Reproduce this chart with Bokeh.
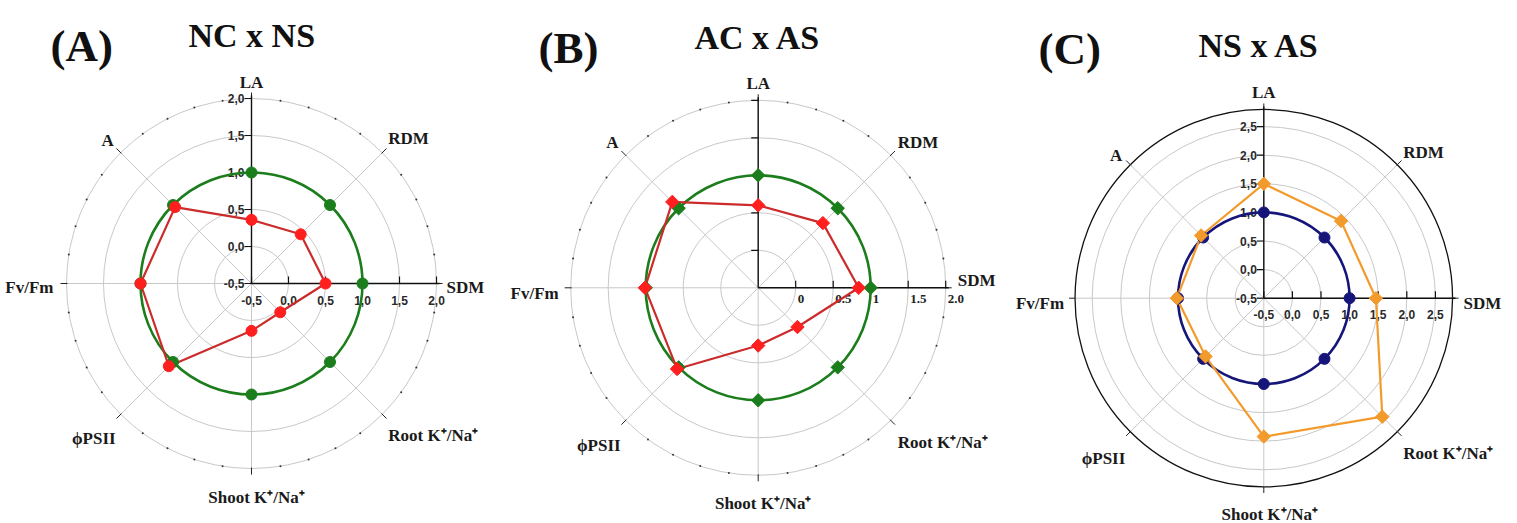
import numpy as np
from bokeh.plotting import figure
from bokeh.layouts import row
from bokeh.models import Range1d, Label
from bokeh.core.properties import value
from bokeh.embed import file_html
from bokeh.resources import INLINE

# ---------------- data ----------------
categories = ["LA", "RDM", "SDM", "Root K\u207a/Na\u207a", "Shoot K\u207a/Na\u207a",
              "\u03d5PSII", "Fv/Fm", "A"]

# Panel A: NC x NS
nc_A = [1.0, 1.0, 1.0, 1.0, 1.0, 1.0, 1.0, 1.0]
ns_A = [0.36, 0.44, 0.50, 0.05, 0.14, 1.08, 1.00, 0.96]
# Panel B: AC x AS
ac_B = [1.0, 1.0, 1.0, 1.0, 1.0, 1.0, 1.0, 1.0]
as_B = [0.60, 0.72, 0.84, 0.24, 0.27, 1.03, 1.01, 1.12]
# Panel C: NS x AS
ns_C = [1.0, 1.0, 1.0, 1.0, 1.0, 1.0, 1.0, 1.0]
as_C = [1.50, 1.41, 1.46, 2.43, 1.92, 0.94, 1.02, 1.05]

grid_A = [0.0, 0.5, 1.0, 1.5, 2.0]
ticks_A = [-0.5, 0.0, 0.5, 1.0, 1.5, 2.0]
tick_labels_A = ["-0,5", "0,0", "0,5", "1,0", "1,5", "2,0"]

grid_B = [0.0, 0.5, 1.0, 1.5, 2.0]
ticks_B = [0.0, 0.5, 1.0, 1.5, 2.0]
tick_labels_B = ["0", "0.5", "1", "1.5", "2.0"]

grid_C = [0.0, 0.5, 1.0, 1.5, 2.0, 2.5]
ticks_C = [-0.5, 0.0, 0.5, 1.0, 1.5, 2.0, 2.5]
tick_labels_C = ["-0,5", "0,0", "0,5", "1,0", "1,5", "2,0", "2,5"]

H = 523
GRAY = "#c8c8c8"
SERIF = "'Liberation Serif', 'Times New Roman', serif"
SANS = "'Liberation Sans', Arial, sans-serif"


def radar(width, cx, cy, scale, rmin, rmax, grid, ticks, tick_labels, ref, cmp_,
          ref_color, cmp_line, cmp_fill, ref_marker, cmp_marker, label_offsets,
          outer_black, dots, title_letter, title_text, letter_pos, text_pos,
          b_style=False):
    p = figure(width=width, height=H, output_backend="svg", toolbar_location=None,
               x_range=Range1d(-cx / scale, (width - cx) / scale),
               y_range=Range1d(-(H - cy) / scale, cy / scale),
               x_axis_location=None, y_axis_location=None, min_border=0)
    p.grid.visible = False
    p.outline_line_color = None
    px = 1.0 / scale
    theta = np.pi / 2 - np.arange(8) * np.pi / 4
    R = rmax - rmin
    cos, sin = np.cos(theta), np.sin(theta)

    # grid circles
    gr = [g - rmin for g in grid]
    p.circle(x=[0] * len(gr), y=[0] * len(gr), radius=gr, fill_color=None,
             line_color=GRAY, line_width=1)
    if outer_black:
        p.circle(x=[0], y=[0], radius=[R], fill_color=None, line_color="#111111",
                 line_width=1.3)
    # spokes
    p.segment(x0=[0] * 8, y0=[0] * 8, x1=list(R * cos), y1=list(R * sin),
              line_color=GRAY, line_width=1)
    # end ticks
    p.segment(x0=list((R - 1 * px) * cos), y0=list((R - 1 * px) * sin),
              x1=list((R + 6 * px) * cos), y1=list((R + 6 * px) * sin),
              line_color="#222222", line_width=1)
    # minor dots on outer circle
    if dots:
        deg = np.arange(0, 360, 9)
        ang = np.deg2rad(deg[(deg % 45) != 0])
        p.scatter(x=list(R * np.cos(ang)), y=list(R * np.sin(ang)), size=2,
                  color="#333333", line_width=0)
    # black radial axes (LA up, SDM right)
    p.segment(x0=[0, 0], y0=[0, 0], x1=[0, R + 3 * px], y1=[R + 3 * px, 0],
              line_color="#111111", line_width=1.4)
    # radial ticks
    tr = [t - rmin for t in ticks]
    p.segment(x0=[-7 * px] * len(tr), y0=tr, x1=[0] * len(tr), y1=tr,
              line_color="#111111", line_width=1.2)
    p.segment(x0=tr, y0=[0] * len(tr), x1=tr, y1=[7 * px] * len(tr),
              line_color="#111111", line_width=1.2)
    if b_style:
        p.text(x=tr, y=[0] * len(tr), text=tick_labels, text_align="left",
               text_baseline="top", x_offset=2, y_offset=7,
               text_font=value(SERIF), text_font_style="bold",
               text_font_size="13px", text_color="#222222")
    else:
        p.text(x=[-7 * px] * len(tr), y=tr, text=tick_labels, text_align="right",
               text_baseline="middle", x_offset=0, y_offset=0,
               text_font=value(SANS), text_font_style="bold",
               text_font_size="12px", text_color="#2a2a2a")
        p.text(x=tr, y=[0] * len(tr), text=tick_labels, text_align="center",
               text_baseline="top", x_offset=0, y_offset=12,
               text_font=value(SANS), text_font_style="bold",
               text_font_size="12px", text_color="#2a2a2a")

    # reference series: smooth circle through its points
    rr = [v - rmin for v in ref]
    p.circle(x=[0], y=[0], radius=[float(np.mean(rr))], fill_color=None,
             line_color=ref_color, line_width=2.6)
    rx, ry = list(np.array(rr) * cos), list(np.array(rr) * sin)
    # comparison series: straight segments
    cr = np.array([v - rmin for v in cmp_])
    cxs, cys = list(cr * cos), list(cr * sin)
    p.line(x=cxs + [cxs[0]], y=cys + [cys[0]], line_color=cmp_line, line_width=2.2)

    def markers(xs, ys, kind, color):
        if kind == "circle":
            p.scatter(x=xs, y=ys, marker="circle", size=11, fill_color=color,
                      line_color=color)
        else:
            p.scatter(x=xs, y=ys, marker="square", angle=np.pi / 4, size=9.5,
                      fill_color=color, line_color=color)

    markers(rx, ry, ref_marker, ref_color)
    markers(cxs, cys, cmp_marker, cmp_fill)

    # category labels
    for i, name in enumerate(categories):
        dx, dy, al = label_offsets[i]
        p.text(x=[R * cos[i]], y=[R * sin[i]], text=[name], text_align=al,
               text_baseline="alphabetic", x_offset=dx, y_offset=dy,
               text_font=value(SERIF), text_font_style="bold",
               text_font_size="17px", text_color="#1a1a1a")

    # titles
    p.add_layout(Label(x=letter_pos[0], y=letter_pos[1], x_units="screen",
                       y_units="screen", text=title_letter, text_font=SERIF,
                       text_font_style="bold", text_font_size="45px",
                       text_color="#111111", text_baseline="alphabetic"))
    p.add_layout(Label(x=text_pos[0], y=text_pos[1], x_units="screen",
                       y_units="screen", text=title_text, text_font=SERIF,
                       text_font_style="bold", text_font_size="34px",
                       text_color="#111111", text_baseline="alphabetic"))
    return p


off_A = [(0, -16, "center"), (6, -14, "left"), (10, 4, "left"), (6, 21, "left"),
         (5, 29, "center"), (-5, 24, "right"), (-13, 4, "right"), (-7, -12, "right")]
off_B = [(0, -17, "center"), (7, -13, "left"), (12, -7, "left"), (7, 22, "left"),
         (5, 28, "center"), (-5, 25, "right"), (-12, 6, "right"), (-7, -13, "right")]
off_C = [(0, -17, "center"), (6, -12, "left"), (11, 5, "left"), (6, 22, "left"),
         (6, 28, "center"), (-5, 27, "right"), (-11, 5, "right"), (-8, -9, "right")]

GREEN = "#1b7d1b"
RED_L = "#cc2b2b"
RED_M = "#ff1f1f"
NAVY = "#16167a"
ORANGE = "#f39a2c"

pA = radar(508, 251, 283, 74.0, -0.5, 2.0, grid_A, ticks_A, tick_labels_A, nc_A, ns_A,
           GREEN, RED_L, RED_M, "circle", "circle", off_A, False, True,
           "(A)", "NC x NS", (50, 478), (188, 488))
pB = radar(500, 249.7, 287.3, 75.0, -0.5, 2.0, grid_B, ticks_B, tick_labels_B, ac_B, as_B,
           GREEN, RED_L, RED_M, "diamond", "diamond", off_B, False, True,
           "(B)", "AC x AS", (30, 476), (186, 486), b_style=True)
pC = radar(509, 255.3, 297.7, 57.2, -0.5, 2.8, grid_C, ticks_C, tick_labels_C, ns_C, as_C,
           NAVY, ORANGE, ORANGE, "circle", "diamond", off_C, True, False,
           "(C)", "NS x AS", (30, 475), (190, 478))

layout = row(pA, pB, pC, spacing=0)
open("out.html", "w").write(file_html(layout, INLINE))
